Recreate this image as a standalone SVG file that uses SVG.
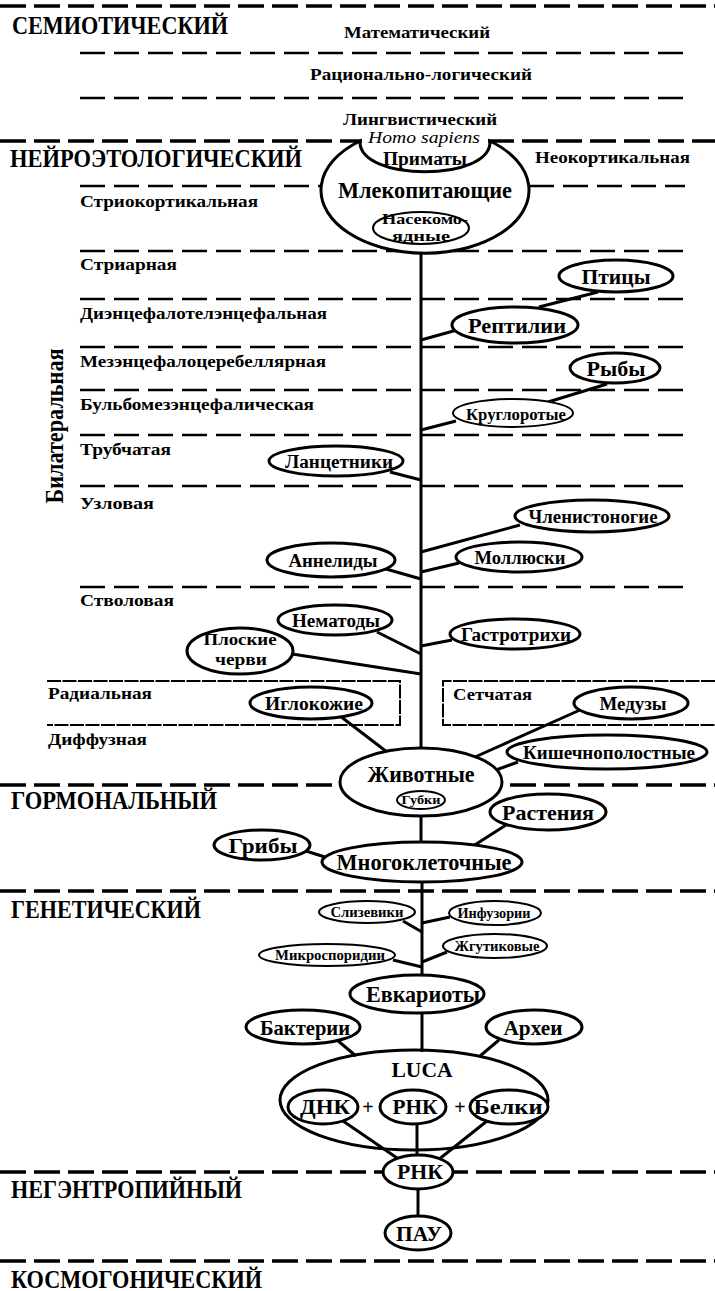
<svg xmlns="http://www.w3.org/2000/svg" width="715" height="1291" viewBox="0 0 715 1291">
<style>
text{font-family:"Liberation Serif","Times New Roman",serif;font-weight:bold;fill:#000}
.big{font-size:25px}
.lvl{font-size:17px}
.nd{font-size:19px;text-anchor:middle}
.sm{font-size:14px;text-anchor:middle}
.maj{stroke:#000;stroke-width:3.5;stroke-dasharray:26 8;fill:none}
.min{stroke:#000;stroke-width:2.5;stroke-dasharray:25 9;fill:none}
.box{stroke:#000;stroke-width:2;stroke-dasharray:14 1.5;fill:none}
.n{fill:#fff;stroke:#000;stroke-width:3}
.ns{fill:#fff;stroke:#000;stroke-width:2}
.e{stroke:#000;stroke-width:3;fill:none}
</style>
<rect width="715" height="1291" fill="#fff"/>
<g id="levels">
<line class="maj" x1="0" y1="6" x2="715" y2="6"/>
<line class="min" x1="80" y1="53" x2="685" y2="53"/>
<line class="min" x1="80" y1="98" x2="685" y2="98"/>
<line class="maj" x1="0" y1="141" x2="362" y2="141"/>
<line class="maj" x1="488" y1="141" x2="715" y2="141"/>
<line class="min" x1="80" y1="186" x2="321" y2="186"/>
<line class="min" x1="529" y1="186" x2="685" y2="186"/>
<line class="min" x1="80" y1="251" x2="685" y2="251"/>
<line class="min" x1="80" y1="299" x2="685" y2="299"/>
<line class="min" x1="80" y1="347" x2="685" y2="347"/>
<line class="min" x1="80" y1="390" x2="685" y2="390"/>
<line class="min" x1="80" y1="435" x2="685" y2="435"/>
<line class="min" x1="80" y1="486" x2="685" y2="486"/>
<line class="min" x1="80" y1="587" x2="685" y2="587"/>
<path class="box" d="M47,681 H400 V725 H47"/>
<path class="box" d="M715,681 H443 V725 H715"/>
<line class="maj" x1="0" y1="785" x2="715" y2="785"/>
<line class="maj" x1="0" y1="891" x2="715" y2="891"/>
<line class="maj" x1="0" y1="1172" x2="715" y2="1172"/>
<line class="maj" x1="0" y1="1261" x2="715" y2="1261"/>
</g>
<g id="labels">
<text class="big" x="12" y="34" textLength="216" lengthAdjust="spacingAndGlyphs">СЕМИОТИЧЕСКИЙ</text>
<text class="lvl" x="344" y="38" textLength="146" lengthAdjust="spacingAndGlyphs">Математический</text>
<text class="lvl" x="310" y="80" textLength="222" lengthAdjust="spacingAndGlyphs">Рационально-логический</text>
<text class="lvl" x="343" y="125" textLength="154" lengthAdjust="spacingAndGlyphs">Лингвистический</text>
<text class="big" x="10" y="167" textLength="292" lengthAdjust="spacingAndGlyphs">НЕЙРОЭТОЛОГИЧЕСКИЙ</text>
<text class="lvl" x="535" y="163" textLength="155" lengthAdjust="spacingAndGlyphs">Неокортикальная</text>
<text class="lvl" x="80" y="207" textLength="178" lengthAdjust="spacingAndGlyphs">Стриокортикальная</text>
<text class="lvl" x="80" y="270" textLength="97" lengthAdjust="spacingAndGlyphs">Стриарная</text>
<text class="lvl" x="80" y="319" textLength="247" lengthAdjust="spacingAndGlyphs">Диэнцефалотелэнцефальная</text>
<text class="lvl" x="80" y="367" textLength="246" lengthAdjust="spacingAndGlyphs">Мезэнцефалоцеребеллярная</text>
<text class="lvl" x="80" y="410" textLength="234" lengthAdjust="spacingAndGlyphs">Бульбомезэнцефалическая</text>
<text class="lvl" x="80" y="455" textLength="91" lengthAdjust="spacingAndGlyphs">Трубчатая</text>
<text class="lvl" x="80" y="509" textLength="74" lengthAdjust="spacingAndGlyphs">Узловая</text>
<text class="lvl" x="80" y="606" textLength="94" lengthAdjust="spacingAndGlyphs">Стволовая</text>
<text class="lvl" x="48" y="699" textLength="104" lengthAdjust="spacingAndGlyphs">Радиальная</text>
<text class="lvl" x="48" y="745" textLength="99" lengthAdjust="spacingAndGlyphs">Диффузная</text>
<text class="lvl" x="453" y="700" textLength="79" lengthAdjust="spacingAndGlyphs">Сетчатая</text>
<text transform="translate(63,426) rotate(-90)" text-anchor="middle" style="font-size:26px" textLength="155" lengthAdjust="spacingAndGlyphs">Билатеральная</text>
<text class="big" x="11" y="809" textLength="206" lengthAdjust="spacingAndGlyphs">ГОРМОНАЛЬНЫЙ</text>
<text class="big" x="11" y="918" textLength="190" lengthAdjust="spacingAndGlyphs">ГЕНЕТИЧЕСКИЙ</text>
<text class="big" x="11" y="1198" textLength="231" lengthAdjust="spacingAndGlyphs">НЕГЭНТРОПИЙНЫЙ</text>
<text class="big" x="11" y="1288" textLength="251" lengthAdjust="spacingAndGlyphs">КОСМОГОНИЧЕСКИЙ</text>
</g>
<g id="connectors">
<line class="e" x1="421" y1="250" x2="421" y2="750"/>
<line class="e" x1="421" y1="812" x2="421" y2="845"/>
<line class="e" x1="422" y1="880" x2="422" y2="978"/>
<line class="e" x1="422" y1="1010" x2="422" y2="1052"/>
<line class="e" x1="418" y1="1186" x2="418" y2="1218"/>
<line class="e" x1="598" y1="292" x2="539" y2="307"/>
<line class="e" x1="457" y1="330" x2="421" y2="340"/>
<line class="e" x1="607" y1="384" x2="548" y2="402"/>
<line class="e" x1="456" y1="421" x2="421" y2="430"/>
<line class="e" x1="390" y1="472" x2="421" y2="480"/>
<line class="e" x1="520" y1="525" x2="421" y2="552"/>
<line class="e" x1="459" y1="563" x2="421" y2="572"/>
<line class="e" x1="386" y1="569" x2="421" y2="579"/>
<line class="e" x1="377" y1="632" x2="421" y2="654"/>
<line class="e" x1="452" y1="640" x2="421" y2="646"/>
<line class="e" x1="292" y1="654" x2="421" y2="674"/>
<line class="e" x1="340" y1="716" x2="387" y2="752"/>
<line class="e" x1="580" y1="710" x2="475" y2="757"/>
<line class="e" x1="518" y1="762" x2="496" y2="770"/>
<line class="e" x1="506" y1="825" x2="470" y2="848"/>
<line class="e" x1="306" y1="851" x2="328" y2="858"/>
<line class="e" x1="403" y1="921" x2="422" y2="932"/>
<line class="e" x1="450" y1="917" x2="422" y2="923"/>
<line class="e" x1="393" y1="960" x2="422" y2="967"/>
<line class="e" x1="447" y1="952" x2="422" y2="962"/>
<line class="e" x1="337" y1="1040" x2="356" y2="1056"/>
<line class="e" x1="499" y1="1040" x2="480" y2="1056"/>
<line class="e" x1="343" y1="1121" x2="400" y2="1160"/>
<line class="e" x1="417" y1="1123" x2="417" y2="1158"/>
<line class="e" x1="487" y1="1121" x2="438" y2="1160"/>
</g>
<g id="mammals">
<path class="n" d="M360,141 A104,63 0 1,0 490,141 C492,182 358,182 360,141 Z"/>
<text x="424" y="143" text-anchor="middle" style="font-weight:normal;font-style:italic;font-size:17px" textLength="112" lengthAdjust="spacingAndGlyphs">Homo sapiens</text>
<text class="nd" x="425" y="165" style="font-size:18px" textLength="84" lengthAdjust="spacingAndGlyphs">Приматы</text>
<text class="nd" x="425" y="198" style="font-size:24px" textLength="174" lengthAdjust="spacingAndGlyphs">Млекопитающие</text>
</g>
<g id="insectivores">
<ellipse class="ns" cx="421" cy="228" rx="48" ry="16"/>
<text class="nd" x="425" y="224" style="font-size:14.5px" textLength="86" lengthAdjust="spacingAndGlyphs">Насекомо-</text>
<text class="nd" x="421" y="241" style="font-size:14.5px" textLength="58" lengthAdjust="spacingAndGlyphs">ядные</text>
</g>
<g id="birds"><ellipse class="n" cx="616" cy="276" rx="57" ry="16"/><text class="nd" x="616" y="284" style="font-size:22px" textLength="69" lengthAdjust="spacingAndGlyphs">Птицы</text></g>
<g id="reptiles"><ellipse class="n" cx="515" cy="325" rx="63" ry="18"/><text class="nd" x="517" y="333" style="font-size:22px" textLength="98" lengthAdjust="spacingAndGlyphs">Рептилии</text></g>
<g id="fish"><ellipse class="n" cx="615" cy="368" rx="45" ry="15"/><text class="nd" x="616" y="376" style="font-size:22px" textLength="59" lengthAdjust="spacingAndGlyphs">Рыбы</text></g>
<g id="cyclostomes"><ellipse class="ns" cx="513" cy="413" rx="60" ry="14"/><text class="nd" x="516" y="420" style="font-size:17px" textLength="100" lengthAdjust="spacingAndGlyphs">Круглоротые</text></g>
<g id="lancelets"><ellipse class="n" cx="336" cy="461" rx="67" ry="15"/><text class="nd" x="339" y="468" style="font-size:18px" textLength="108" lengthAdjust="spacingAndGlyphs">Ланцетники</text></g>
<g id="arthropods"><ellipse class="n" cx="592" cy="516" rx="77" ry="16"/><text class="nd" x="593" y="523" style="font-size:18px" textLength="129" lengthAdjust="spacingAndGlyphs">Членистоногие</text></g>
<g id="annelids"><ellipse class="n" cx="331" cy="560" rx="64" ry="17"/><text class="nd" x="333" y="567" style="font-size:18px" textLength="89" lengthAdjust="spacingAndGlyphs">Аннелиды</text></g>
<g id="molluscs"><ellipse class="n" cx="519" cy="557" rx="63" ry="15"/><text class="nd" x="520" y="564" style="font-size:18px" textLength="91" lengthAdjust="spacingAndGlyphs">Моллюски</text></g>
<g id="nematodes"><ellipse class="n" cx="335" cy="620" rx="57" ry="15"/><text class="nd" x="336" y="627" style="font-size:18px" textLength="88" lengthAdjust="spacingAndGlyphs">Нематоды</text></g>
<g id="gastrotrichs"><ellipse class="n" cx="515" cy="634" rx="65" ry="15"/><text class="nd" x="516" y="641" style="font-size:18px" textLength="110" lengthAdjust="spacingAndGlyphs">Гастротрихи</text></g>
<g id="flatworms"><ellipse class="n" cx="240" cy="651" rx="53" ry="23"/><text class="nd" x="240" y="645" style="font-size:16px" textLength="73" lengthAdjust="spacingAndGlyphs">Плоские</text><text class="nd" x="241" y="665" style="font-size:16px" textLength="52" lengthAdjust="spacingAndGlyphs">черви</text></g>
<g id="echinoderms"><ellipse class="n" cx="311" cy="703" rx="61" ry="16"/><text class="nd" x="314" y="710" style="font-size:18px" textLength="98" lengthAdjust="spacingAndGlyphs">Иглокожие</text></g>
<g id="jellyfish"><ellipse class="n" cx="631" cy="703" rx="57" ry="16"/><text class="nd" x="633" y="710" style="font-size:18px" textLength="67" lengthAdjust="spacingAndGlyphs">Медузы</text></g>
<g id="coelenterates"><ellipse class="n" cx="607" cy="752" rx="100" ry="17"/><text class="nd" x="609" y="759" style="font-size:18px" textLength="172" lengthAdjust="spacingAndGlyphs">Кишечнополостные</text></g>
<g id="animals"><ellipse class="n" cx="421" cy="782" rx="81" ry="34"/><text class="nd" x="421" y="782" style="font-size:23px" textLength="107" lengthAdjust="spacingAndGlyphs">Животные</text></g>
<g id="sponges"><ellipse class="ns" cx="421" cy="800" rx="24" ry="9"/><text class="sm" x="421" y="804" style="font-size:12px" textLength="39" lengthAdjust="spacingAndGlyphs">Губки</text></g>
<g id="plants"><ellipse class="n" cx="548" cy="812" rx="58" ry="18"/><text class="nd" x="548" y="820" style="font-size:22px" textLength="92" lengthAdjust="spacingAndGlyphs">Растения</text></g>
<g id="fungi"><ellipse class="n" cx="262" cy="845" rx="48" ry="15"/><text class="nd" x="263" y="853" style="font-size:22px" textLength="69" lengthAdjust="spacingAndGlyphs">Грибы</text></g>
<g id="multicellular"><ellipse class="n" cx="422" cy="862" rx="100" ry="20"/><text class="nd" x="424" y="870" style="font-size:23px" textLength="175" lengthAdjust="spacingAndGlyphs">Многоклеточные</text></g>
<g id="slime-molds"><ellipse class="ns" cx="367" cy="912" rx="48" ry="11"/><text class="sm" x="367" y="917" textLength="73" lengthAdjust="spacingAndGlyphs">Слизевики</text></g>
<g id="ciliates"><ellipse class="ns" cx="495" cy="913" rx="46" ry="12"/><text class="sm" x="494" y="918" textLength="73" lengthAdjust="spacingAndGlyphs">Инфузории</text></g>
<g id="microsporidia"><ellipse class="ns" cx="327" cy="955" rx="68" ry="11"/><text class="sm" x="330" y="960" textLength="110" lengthAdjust="spacingAndGlyphs">Микроспоридии</text></g>
<g id="flagellates"><ellipse class="ns" cx="495" cy="946" rx="52" ry="12"/><text class="sm" x="497" y="951" textLength="85" lengthAdjust="spacingAndGlyphs">Жгутиковые</text></g>
<g id="eukaryotes"><ellipse class="n" cx="417" cy="994" rx="67" ry="19"/><text class="nd" x="423" y="1002" style="font-size:23px" textLength="114" lengthAdjust="spacingAndGlyphs">Евкариоты</text></g>
<g id="bacteria"><ellipse class="n" cx="303" cy="1027" rx="57" ry="17"/><text class="nd" x="305" y="1035" style="font-size:21px" textLength="90" lengthAdjust="spacingAndGlyphs">Бактерии</text></g>
<g id="archaea"><ellipse class="n" cx="534" cy="1027" rx="48" ry="17"/><text class="nd" x="533" y="1035" style="font-size:21px" textLength="59" lengthAdjust="spacingAndGlyphs">Археи</text></g>
<g id="luca"><ellipse class="n" cx="414" cy="1100" rx="134" ry="50" style="fill:none"/><text class="nd" x="422" y="1077" style="font-size:21px" textLength="61" lengthAdjust="spacingAndGlyphs">LUCA</text><text class="nd" x="368" y="1114" style="font-size:20px">+</text><text class="nd" x="460" y="1114" style="font-size:20px">+</text></g>
<g id="dna"><ellipse class="n" cx="323" cy="1107" rx="35" ry="17"/><text class="nd" x="325" y="1114" style="font-size:21px" textLength="50" lengthAdjust="spacingAndGlyphs">ДНК</text></g>
<g id="rna-luca"><ellipse class="n" cx="413" cy="1107" rx="33" ry="17"/><text class="nd" x="415" y="1114" style="font-size:21px" textLength="45" lengthAdjust="spacingAndGlyphs">РНК</text></g>
<g id="proteins"><ellipse class="n" cx="509" cy="1107" rx="39" ry="17"/><text class="nd" x="508" y="1114" style="font-size:21px" textLength="69" lengthAdjust="spacingAndGlyphs">Белки</text></g>
<g id="rna"><ellipse class="n" cx="418" cy="1172" rx="35" ry="17"/><text class="nd" x="420" y="1179" style="font-size:21px" textLength="46" lengthAdjust="spacingAndGlyphs">РНК</text></g>
<g id="pah"><ellipse class="n" cx="418" cy="1233" rx="33" ry="17"/><text class="nd" x="419" y="1241" style="font-size:21px" textLength="46" lengthAdjust="spacingAndGlyphs">ПАУ</text></g>
</svg>
